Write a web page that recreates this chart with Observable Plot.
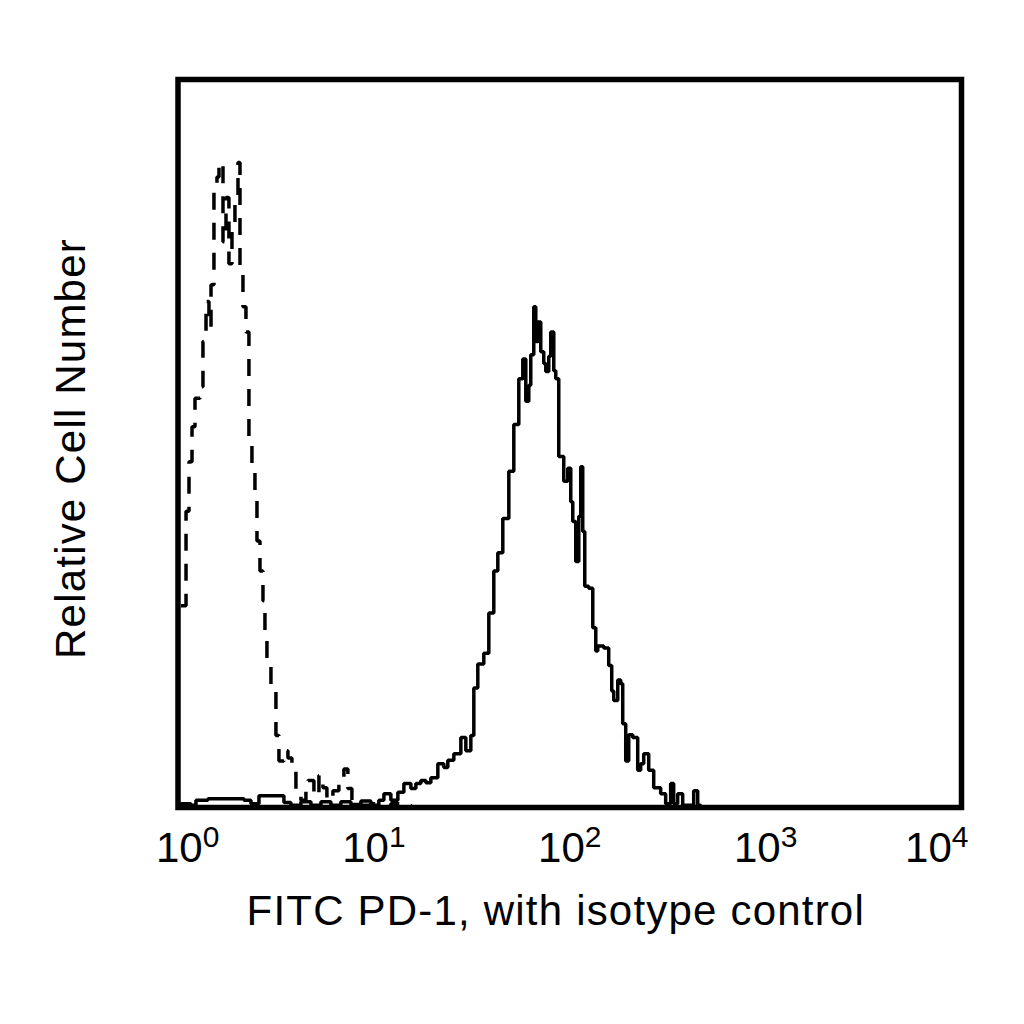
<!DOCTYPE html>
<html>
<head>
<meta charset="utf-8">
<script src="https://cdn.jsdelivr.net/npm/d3@7"></script>
<script src="https://cdn.jsdelivr.net/npm/@observablehq/plot@0.6"></script>
<style>
  html, body { margin: 0; padding: 0; background: #fff; }
  #chart svg { display: block; }
</style>
</head>
<body>
<div id="chart"></div>
<script>
// Fluorescence intensity (bin left edge, FITC) and relative cell number (% of full scale)
const isoX = [1.036, 1.099, 1.138, 1.179, 1.221, 1.295, 1.341, 1.390, 1.439, 1.474, 1.526, 1.581, 1.619,
  1.697, 1.758, 1.820, 1.886, 1.953, 2.024, 2.072, 2.146, 2.223, 2.302, 2.385, 2.471, 2.530, 2.621, 2.715,
  2.779, 2.845, 2.982, 3.162, 3.276, 3.474, 3.641, 3.816, 4.000, 4.242, 4.499, 4.606, 4.942, 5.242, 5.494,
  5.757, 6.178, 6.627, 7.030, 7.368, 7.723, 8.586, 9.654, 10.86, 12.21, 13.73, 15.45];
const isoY = [27.7, 40.7, 47.5, 52.3, 56.2, 57.8, 64.0, 69.5, 66.0, 71.8, 84.5, 86.6, 88.6,
  77.7, 83.8, 74.7, 79.7, 83.2, 88.6, 73.6, 68.8, 65.3, 50.3, 46.2, 42.1, 36.6, 32.5, 28.4,
  22.9, 19.5, 16.0, 9.9, 6.4, 7.8, 6.8, 5.1, 2.3, 1.0, 2.3, 3.7, 1.6, 4.4, 2.7,
  1.0, 2.3, 3.7, 5.3, 2.6, 1.0, 0.3, 0.5, 0.1, 0.5, 0.3, 0];

const pd1X = [1.0, 1.036, 1.165, 1.235, 1.422, 2.172, 2.357, 2.590, 3.474, 3.771, 4.242, 4.770, 5.366,
  6.035, 6.785, 7.632, 8.586, 9.654, 10.60, 11.25, 12.21, 13.26, 14.23, 15.45, 16.38, 17.37, 18.42,
  19.54, 21.21, 22.76, 23.85, 25.60, 27.80, 29.48, 31.26, 32.38, 33.93, 36.41, 38.62, 40.95, 42.93,
  45.52, 48.86, 51.81, 54.94, 57.58, 59.65, 61.79, 63.24, 65.51, 67.07, 68.66, 71.12, 73.67, 75.43,
  78.14, 80.00, 82.87, 84.84, 87.88, 93.20, 97.68, 101.2, 103.6, 107.3, 111.2, 113.8, 116.5, 119.3,
  125.0, 131.1, 135.8, 139.0, 149.1, 158.1, 163.8, 167.7, 175.8, 182.0, 186.4, 193.1, 200.0, 209.6,
  222.3, 230.2, 238.6, 253.0, 268.3, 291.2, 308.8, 327.5, 339.3, 355.6, 377.2, 429.3, 450.0, 466.1];
const pd1Y = [0.4, 0.5, 0.3, 1.0, 1.2, 1.0, 0.5, 1.6, 0.7, 0.3, 0.8, 0.3, 0.8,
  0.3, 0.8, 0.4, 0.9, 0.3, 1.0, 1.9, 1.0, 2.1, 3.3, 2.6, 3.3, 3.7, 3.4,
  4.1, 6.0, 5.5, 6.5, 7.4, 9.6, 7.8, 9.9, 16.4, 19.7, 21.2, 26.7, 32.5, 35.0,
  39.7, 46.2, 52.6, 58.9, 61.6, 55.8, 58.0, 62.2, 68.8, 64.0, 66.7, 62.6, 61.0, 59.9,
  62.0, 65.3, 60.0, 58.9, 48.2, 44.8, 46.6, 42.0, 39.3, 33.8, 40.0, 46.8, 37.9, 30.4,
  30.1, 24.7, 21.5, 22.2, 21.9, 19.5, 16.0, 14.7, 17.5, 17.0, 11.5, 6.4, 10.0, 9.6,
  5.1, 6.0, 7.4, 5.1, 2.7, 1.9, 0.5, 3.3, 0.5, 1.9, 0.3, 2.3, 0.3, 0];

const xTicks = [1, 10, 100, 1000, 10000];
const xTitle = "FITC PD-1, with isotype control";
const yTitle = "Relative Cell Number";

const iso = isoX.map((x, i) => ({x, y: isoY[i]}));
const pd1 = pd1X.map((x, i) => ({x, y: pd1Y[i]}));

const FONT = "'Liberation Sans', Arial, Helvetica, sans-serif";

const chart = Plot.plot({
  width: 1024,
  height: 1024,
  marginLeft: 177.5,
  marginRight: 63,
  marginTop: 79,
  marginBottom: 217,
  style: {fontFamily: FONT, background: "#fff", color: "#000"},
  x: {type: "log", domain: [1, 10000]},
  y: {domain: [0, 100], axis: null},
  marks: [
    Plot.line(iso, {x: "x", y: "y", curve: "step-after", stroke: "#000", strokeWidth: 3.5,
      strokeDasharray: "17,13", strokeLinecap: "butt", strokeLinejoin: "miter"}),
    Plot.line(pd1, {x: "x", y: "y", curve: "step-after", stroke: "#000", strokeWidth: 3.5,
      strokeLinejoin: "miter"}),
    Plot.frame({stroke: "#000", strokeWidth: 5.5}),
    Plot.axisX({ticks: xTicks, tickSize: 0, tickPadding: 25, fontSize: 42, label: null,
      tickFormat: d => "10^" + Math.round(Math.log10(d))}),
    Plot.text([xTitle], {frameAnchor: "bottom", dx: -14, dy: 117, fontSize: 42, fill: "#000"}),
    Plot.text([yTitle], {frameAnchor: "left", textAnchor: "middle", rotate: -90, dx: -106, dy: 5,
      fontSize: 42, fill: "#000"})
  ]
});

d3.select(chart).selectAll("text").style("letter-spacing", function() {
  const t = this.textContent;
  return (t === xTitle || t === yTitle) ? "1.2px" : null;
});

// superscript exponents on tick labels; end labels pulled inward like the original
const tickTexts = d3.select(chart).selectAll("g[aria-label='x-axis tick label'] text").nodes();
tickTexts.forEach((node, i) => {
  const t = node.textContent;
  if (!t.includes("^")) return;
  const [base, exp] = t.split("^");
  const sel = d3.select(node);
  sel.text(null);
  sel.append("tspan").text(base);
  sel.append("tspan").attr("dy", "-15").attr("font-size", 30).text(exp);
  if (i === 0) sel.attr("text-anchor", "start").attr("dx", -22);
  if (i === tickTexts.length - 1) sel.attr("text-anchor", "end").attr("dx", 7);
});

document.getElementById("chart").appendChild(chart);
</script>
</body>
</html>
